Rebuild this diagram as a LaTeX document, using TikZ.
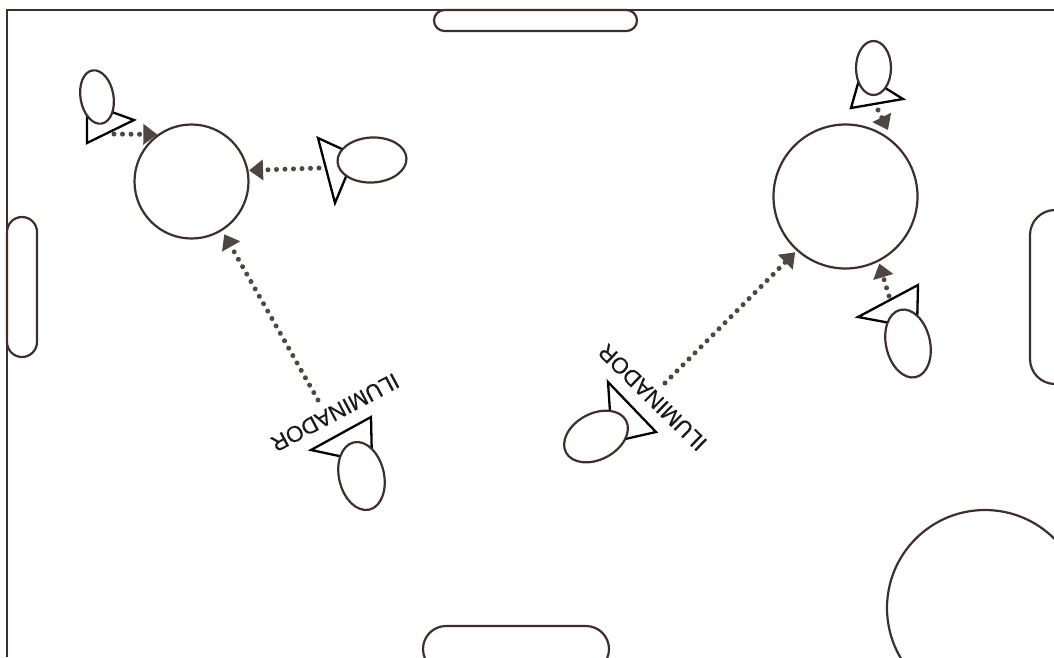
\documentclass[tikz,border=0pt]{standalone}
\usepackage{fontspec}
\setmainfont{Liberation Sans}
\newfontfamily\lampfont[FakeBold=0.35]{Liberation Sans}
\usetikzlibrary{arrows.meta,shapes.geometric,shapes.misc}
\definecolor{ink}{HTML}{3F2F2A}
\definecolor{dots}{HTML}{4F4641}
\tikzset{
  x=1pt,y=-1pt,
  frameline/.style={draw=ink,line width=2pt},
  pill/.style={rounded rectangle,draw=ink,line width=2.2pt,fill=white,inner sep=0pt},
  ring/.style={circle,draw=ink,line width=2.2pt,fill=white,inner sep=0pt},
  head/.style={ellipse,draw=ink,line width=2.2pt,fill=white,inner sep=0pt},
  cone/.style={draw=black,line width=2.3pt,line join=miter},
  beam/.style={draw=dots,line width=5pt,line cap=round,dash pattern=on 0.01pt off 8.5pt,
    -{Triangle[length=14pt,width=20pt,fill=dots,line cap=butt]}},
  lamp/.style={font=\lampfont\fontsize{22.5}{22.5}\selectfont,text=black!90,inner sep=0pt}
}
\begin{document}
\begin{tikzpicture}
\useasboundingbox (0,0) rectangle (1054,657);
\clip (0,0) rectangle (1054,657);
% frame
\coordinate (fa) at (7,657);
\coordinate (fb) at (7,10);
\coordinate (fc) at (1054,10);
\draw[frameline] (fa) -- (fb) -- (fc);
% table pills
\node[pill,minimum width=203pt,minimum height=21pt] (ptop) at (535.5,20.5) {};
\node[pill,minimum width=186pt,minimum height=46pt] (pbot) at (516,649) {};
\node[pill,rotate=90,minimum width=140pt,minimum height=30pt] (pleft) at (22,287) {};
\node[pill,rotate=90,minimum width=174pt,minimum height=50pt] (pright) at (1055,297) {};
% large circles
\node[ring,minimum size=114pt] (c1) at (191.5,181.5) {};
\node[ring,minimum size=144pt] (c2) at (845.5,196.5) {};
\node[ring,minimum size=196pt] (c3) at (985,608) {};
% cones
\coordinate (t1a) at (87,103); \coordinate (t1b) at (87,143); \coordinate (t1c) at (134,120);
\coordinate (t2a) at (355,155); \coordinate (t2b) at (318,138); \coordinate (t2c) at (335,203);
\coordinate (t3a) at (861,73); \coordinate (t3b) at (851,108); \coordinate (t3c) at (903,99);
\coordinate (t4a) at (917,328); \coordinate (t4b) at (918,285); \coordinate (t4c) at (858,317);
\coordinate (t5a) at (372,463); \coordinate (t5b) at (371,417); \coordinate (t5c) at (311,450);
\coordinate (t6a) at (612,442); \coordinate (t6b) at (608,382); \coordinate (t6c) at (656,432);
\draw[cone] (t1a) -- (t1b) -- (t1c) -- cycle;
\draw[cone] (t2a) -- (t2b) -- (t2c) -- cycle;
\draw[cone] (t3a) -- (t3b) -- (t3c) -- cycle;
\draw[cone] (t4a) -- (t4b) -- (t4c) -- cycle;
\draw[cone] (t5a) -- (t5b) -- (t5c) -- cycle;
\draw[cone] (t6a) -- (t6b) -- (t6c) -- cycle;
% heads
\node[head,minimum width=33pt,minimum height=54pt,rotate=10] (e1) at (97,97) {};
\node[head,minimum width=69pt,minimum height=45pt,rotate=3] (e2) at (372,160) {};
\node[head,minimum width=35pt,minimum height=54pt] (e3) at (873.5,68) {};
\node[head,minimum width=44pt,minimum height=69pt,rotate=13] (e4) at (908,343.5) {};
\node[head,minimum width=45pt,minimum height=69pt,rotate=13] (e5) at (361.5,476) {};
\node[head,minimum width=68pt,minimum height=46pt,rotate=28] (e6) at (596,436.5) {};
% beams
\coordinate (b1) at (114,134); \coordinate (b2) at (319,168); \coordinate (b3) at (318,400);
\coordinate (b4) at (665,383); \coordinate (b5) at (878,110); \coordinate (b6) at (889,296);
\coordinate (b5e) at (888,130);
\draw[beam] (b1) -- (c1.126);
\draw[beam,shorten >=0.5pt] (b2) -- (c1.11);
\draw[beam,shorten >=4pt] (b3) -- (c1.-58);
\draw[beam,shorten >=2pt] (b4) -- (c2.228);
\draw[beam] (b5) -- (b5e);
\draw[beam,shorten >=2pt] (b6) -- (c2.-63);
% labels
\node[lamp,rotate=208] (l1) at (335,412.5) {ILUMINADOR};
\node[lamp,rotate=135.5] (l2) at (652.5,397.5) {ILUMINADOR};
\end{tikzpicture}
\end{document}
